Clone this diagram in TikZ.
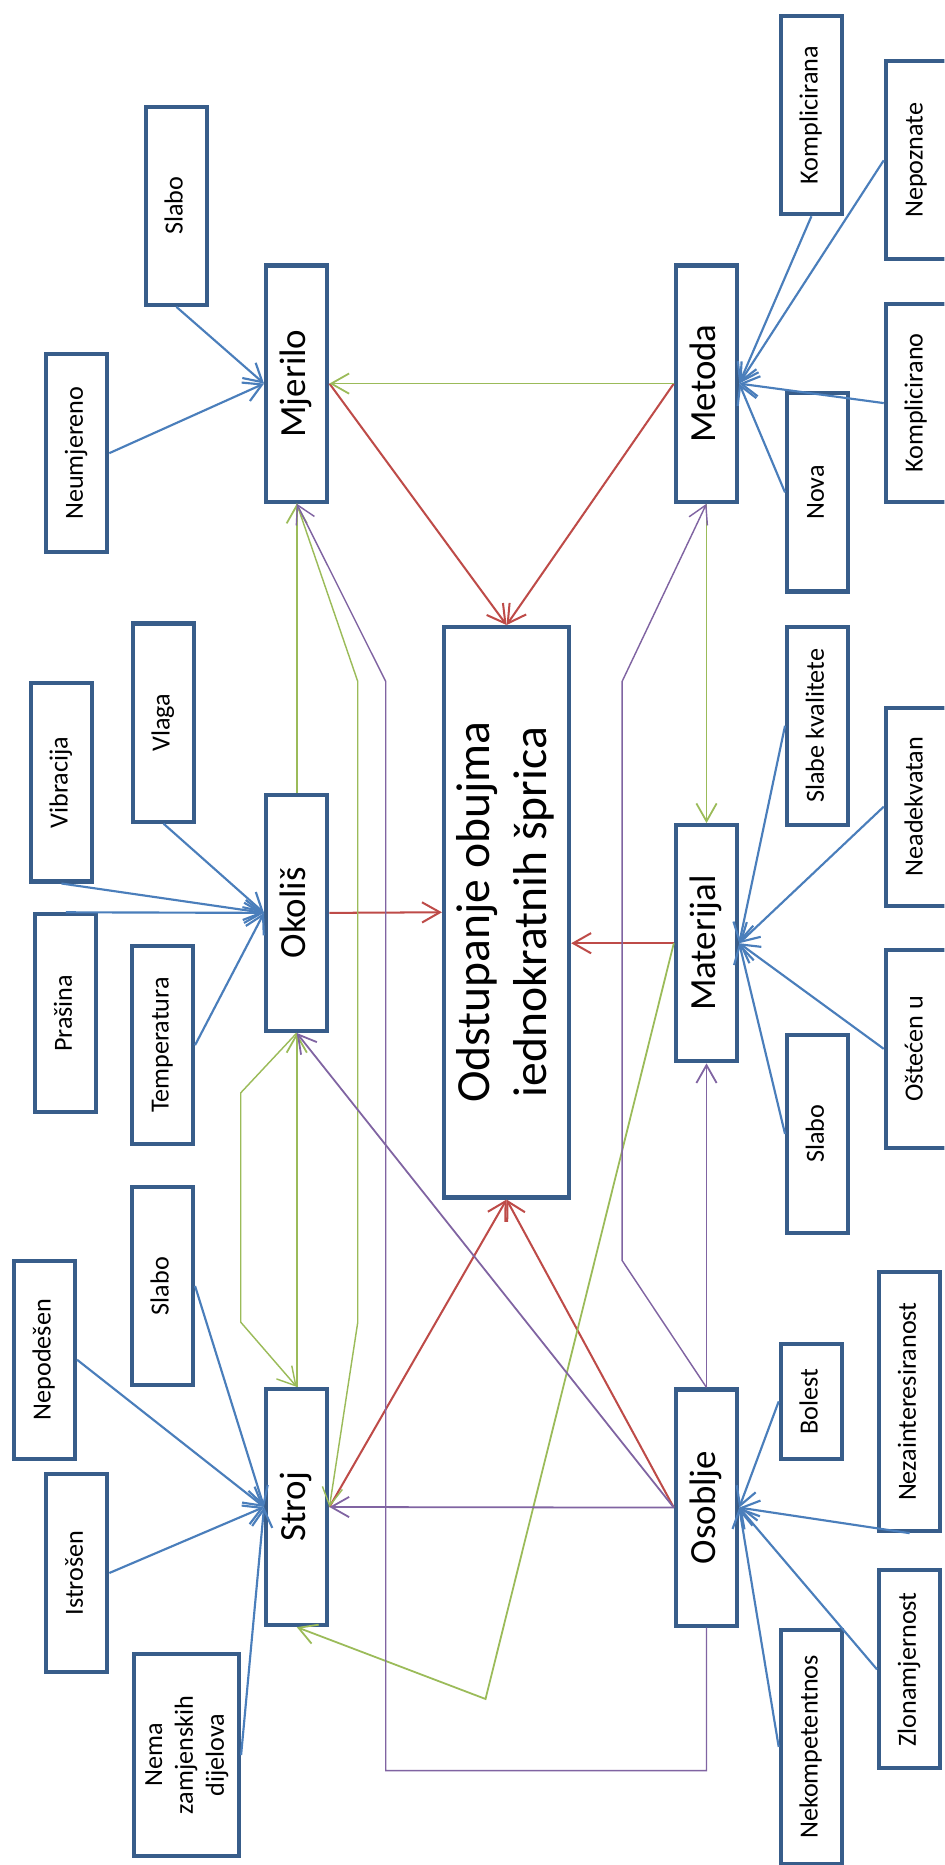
\documentclass[tikz,border=0pt]{standalone}
\usepackage{fontspec}
\setmainfont{Carlito}
\usetikzlibrary{arrows.meta,calc}
\definecolor{boxc}{RGB}{56,93,138}
\definecolor{bluec}{RGB}{74,126,187}
\definecolor{redc}{RGB}{190,75,72}
\definecolor{greenc}{RGB}{155,187,89}
\definecolor{purplec}{RGB}{128,100,162}
\newcommand\rtx[1]{\rotatebox{90}{\begin{tabular}{@{}c@{}}#1\end{tabular}}}
\begin{document}
\begin{tikzpicture}[x=1pt,y=-1pt,
  sbox/.style={draw=boxc, line width=3.4pt, fill=white, inner sep=0pt,
    minimum width=51.6pt, minimum height=166.6pt, font=\fontsize{22}{26}\selectfont},
  mbox/.style={sbox, minimum height=198.6pt, font=\fontsize{31}{37}\selectfont},
  cbox/.style={sbox, minimum width=105.3pt, minimum height=479.6pt, font=\fontsize{40}{48}\selectfont},
  tip/.style={-{Straight Barb[length=15pt,width=17pt]}},
  bl/.style={tip, draw=bluec, line width=1.8pt},
  rd/.style={tip, draw=redc, line width=1.7pt},
  gr/.style={tip, draw=greenc, line width=1.5pt},
  pu/.style={tip, draw=purplec, line width=1.5pt},
  thin/.style={line width=1.2pt}]
\useasboundingbox (0,0) rectangle (794,1568);
\clip (0,0) rectangle (794,1568);
\fill[white] (0,0) rectangle (794,1568);

% nodes
\node[sbox] (slM) at (148.3,173) {\rtx{Slabo}};
\node[sbox] (neu) at (64.4,381) {\rtx{Neumjereno}};
\node[mbox] (mje) at (249.5,322.5) {\rtx{Mjerilo}};
\node[mbox] (met) at (594,322.5) {\rtx{Metoda}};
\node[sbox] (kna) at (682.2,96.8) {\rtx{Komplicirana}};
\node[sbox] (nep) at (770.5,134.8) {\rtx{Nepoznate}};
\node[sbox] (kno) at (770.5,338.9) {\rtx{Komplicirano}};
\node[sbox] (nov) at (687.5,414) {\rtx{Nova}};
\node[sbox] (vib) at (51.7,657.8) {\rtx{Vibracija}};
\node[sbox] (vla) at (137.5,607.5) {\rtx{Vlaga}};
\node[sbox] (pra) at (55.3,852) {\rtx{Prašina}};
\node[sbox] (tem) at (136.5,878.7) {\rtx{Temperatura}};
\node[mbox] (oko) at (249.5,767.5) {\rtx{Okoliš}};
\node[cbox] (ods) at (425.9,767) {\rtx{Odstupanje obujma\\iednokratnih šprica}};
\node[mbox] (mat) at (594,793) {\rtx{Materijal}};
\node[sbox] (skv) at (687.5,610.2) {\rtx{Slabe kvalitete}};
\node[sbox] (nea) at (770.5,678.2) {\rtx{Neadekvatan}};
\node[sbox] (ost) at (770.5,881.8) {\rtx{Oštećen u}};
\node[sbox] (slMa) at (687.5,953.3) {\rtx{Slabo}};
\node[sbox] (slS) at (136.5,1081.2) {\rtx{Slabo}};
\node[sbox] (npd) at (37.3,1143.2) {\rtx{Nepodešen}};
\node[sbox] (ist) at (64.4,1322.5) {\rtx{Istrošen}};
\node[sbox, minimum width=88pt, minimum height=169.4pt] (nem) at (157,1475.6) {\rtx{Nema\\zamjenskih\\dijelova}};
\node[mbox] (str) at (249.5,1267) {\rtx{Stroj}};
\node[mbox] (oso) at (594,1267.5) {\rtx{Osoblje}};
\node[sbox, minimum height=96.2pt] (bol) at (682.2,1178.2) {\rtx{Bolest}};
\node[sbox, minimum height=217.6pt] (nez) at (764.8,1178.5) {\rtx{Nezainteresiranost}};
\node[sbox] (zlo) at (764.8,1403.5) {\rtx{Zlonamjernost}};
\node[sbox, minimum height=196.6pt] (nek) at (682.2,1468.7) {\rtx{Nekompetentnos}};

% bend points
\coordinate (g1) at (300.8,573);
\coordinate (g2) at (300.8,1111.6);
\coordinate (g3) at (202.4,918.8);
\coordinate (g4) at (202.4,1111.6);
\coordinate (g5) at (408.2,1428.4);
\coordinate (p1) at (523,1059.7);
\coordinate (p2) at (523,573);
\coordinate (p3) at (594,1488.7);
\coordinate (p4) at (324.3,1488.7);
\coordinate (p5) at (324.3,573);

% blue
\draw[bl] (slM.south) -- (mje.west);
\draw[bl] (neu.east) -- (mje.west);
\draw[bl] (kna.south) -- (met.east);
\draw[bl] (nep.west) -- (met.east);
\draw[bl] (kno.west) -- (met.east);
\draw[bl] (nov.west) -- (met.east);
\draw[bl] (vla.south) -- (oko.west);
\draw[bl] (vib.south) -- (oko.west);
\draw[bl] (pra.north) -- (oko.west);
\draw[bl] (tem.east) -- (oko.west);
\draw[bl] (skv.west) -- (mat.east);
\draw[bl] (nea.west) -- (mat.east);
\draw[bl] (ost.west) -- (mat.east);
\draw[bl] (slMa.west) -- (mat.east);
\draw[bl] (slS.east) -- (str.west);
\draw[bl] (npd.east) -- (str.west);
\draw[bl] (ist.east) -- (str.west);
\draw[bl] (nem.east) -- (str.west);
\draw[bl] (bol.west) -- (oso.east);
\draw[bl] (nez.south) -- (oso.east);
\draw[bl] (zlo.west) -- (oso.east);
\draw[bl] (nek.west) -- (oso.east);

% red
\draw[rd] (mje.east) -- (ods.north);
\draw[rd] (met.west) -- (ods.north);
\draw[rd] (oko.east) -- (ods.west);
\draw[rd] (mat.west) -- (mat.west -| ods.east);
\draw[rd] (str.east) -- (ods.south);
\draw[rd] (oso.west) -- (ods.south);

% green
\draw[gr] (met.west) -- (mje.east);
\draw[gr] (met.south) -- (mat.north);
\draw[gr] (oko.north) -- (mje.south);
\draw[gr, thin] (mje.south) -- (g1) -- (g2) -- (str.east);
\draw[gr] (str.north) -- (oko.south);
\draw[gr, thin] (oko.south) -- (g3) -- (g4) -- (str.north);
\draw[gr] (mat.west) -- (g5) -- (str.south);

% purple
\draw[pu, thin] (oso.north) -- (p1) -- (p2) -- (met.south);
\draw[pu] (oso.north) -- (mat.south);
\draw[pu] (oso.west) -- (str.east);
\draw[pu] (oso.west) -- (oko.south);
\draw[pu, thin] (oso.south) -- (p3) -- (p4) -- (p5) -- (mje.south);
\end{tikzpicture}
\end{document}
